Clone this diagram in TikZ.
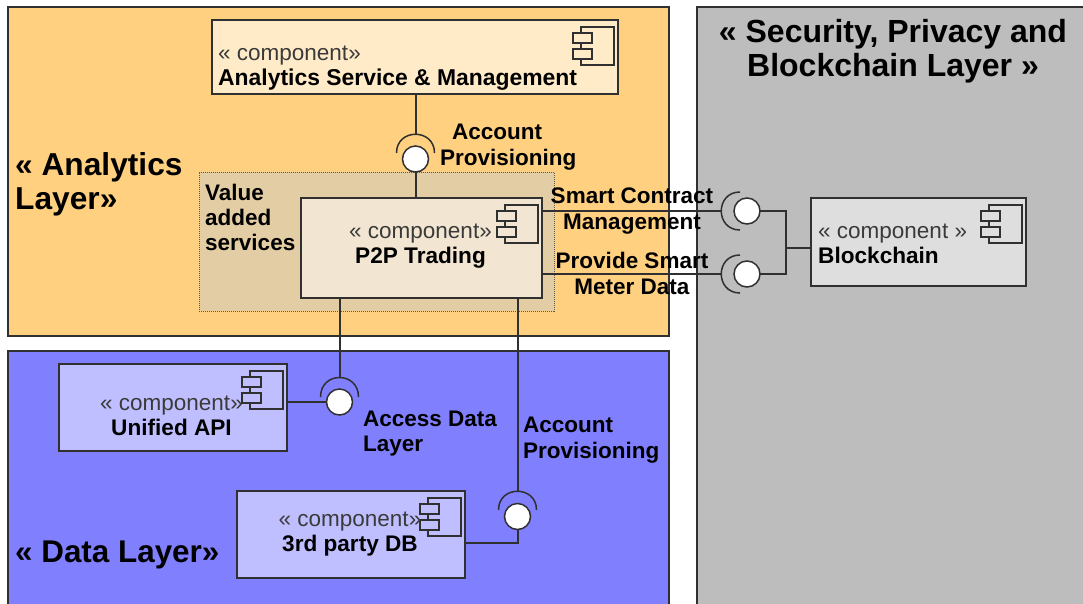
\documentclass[tikz,border=0pt]{standalone}
\usepackage{fontspec}
\setmainfont{Liberation Sans}
\definecolor{linecol}{HTML}{303030}
\definecolor{compgray}{HTML}{3A3A3A}
\definecolor{orangelayer}{HTML}{FFD080}
\definecolor{bluelayer}{HTML}{8080FF}
\definecolor{graylayer}{HTML}{BDBDBD}
\definecolor{valuefill}{HTML}{E3CDA4}
\definecolor{orangecomp}{HTML}{FFEBC8}
\definecolor{tradecomp}{HTML}{F2E6D2}
\definecolor{graycomp}{HTML}{DEDEDE}
\definecolor{bluecomp}{HTML}{BFBFFF}
\newcommand{\compicon}[2]{%
  \draw[iconline] ([xshift=-37pt,yshift=-7pt]#1.north east) rectangle ([xshift=-4pt,yshift=-45pt]#1.north east);
  \draw[iconline,fill=#2] ([xshift=-45pt,yshift=-13pt]#1.north east) rectangle ([xshift=-26pt,yshift=-23pt]#1.north east);
  \draw[iconline,fill=#2] ([xshift=-45pt,yshift=-29pt]#1.north east) rectangle ([xshift=-26pt,yshift=-39pt]#1.north east);
}
\newcommand{\bname}[1]{{\fontsize{22.6}{25}\selectfont\bfseries\color{black}#1}}
\tikzset{
  layerbox/.style={draw=linecol,line width=1.5pt,inner sep=0pt,outer sep=0pt,anchor=center},
  compbox/.style={draw=linecol,line width=1.5pt,inner sep=0pt,outer sep=0pt,anchor=center},
  valuebox/.style={draw=linecol!80,densely dotted,line width=1pt,inner sep=0pt,outer sep=0pt,fill=valuefill},
  iconline/.style={draw=linecol,line width=1.4pt},
  wire/.style={draw=linecol,line width=2pt},
  socket/.style={draw=linecol,line width=1.5pt},
  ball/.style={circle,draw=linecol,line width=1.5pt,fill=white,minimum size=26pt,inner sep=0pt,outer sep=0pt},
  lbl/.style={font=\fontsize{22.5}{25.3}\selectfont\bfseries,text=black,inner sep=0pt,align=center},
  lbll/.style={lbl,align=left},
  comptxt/.style={font=\fontsize{22.5}{25}\selectfont,text=compgray,inner sep=0pt},
  title/.style={font=\fontsize{31.7}{34}\selectfont\bfseries,text=black,inner sep=0pt}
}
\begin{document}
\begin{tikzpicture}[x=1pt,y=-1pt]
\useasboundingbox (0,0) rectangle (1083,603);
% layers
\node[layerbox,fill=graylayer,minimum width=400pt,minimum height=606pt] (seclayer) at (897,310) {};
\node[layerbox,fill=orangelayer,minimum width=661pt,minimum height=329pt] (anlayer) at (338.5,171.5) {};
\node[layerbox,fill=bluelayer,minimum width=661pt,minimum height=265pt] (datalayer) at (338.5,483.5) {};
\node[valuebox,minimum width=355pt,minimum height=139pt] (value) at (376.5,241.5) {};
% components
\node[compbox,fill=orangecomp,minimum width=406pt,minimum height=74pt] (service) at (415,57) {};
\node[compbox,fill=tradecomp,minimum width=241pt,minimum height=100pt] (p2p) at (421.5,248) {};
\node[compbox,fill=graycomp,minimum width=215pt,minimum height=88pt] (chain) at (918.5,242) {};
\node[compbox,fill=bluecomp,minimum width=228pt,minimum height=87pt] (api) at (173,407.5) {};
\node[compbox,fill=bluecomp,minimum width=228pt,minimum height=87pt] (db) at (351,534.5) {};
\compicon{service}{orangecomp}
\compicon{p2p}{tradecomp}
\compicon{chain}{graycomp}
\compicon{api}{bluecomp}
\compicon{db}{bluecomp}
% interface coordinates
\coordinate (s1) at (415.5,134);
\coordinate (s2) at (722,211);
\coordinate (s3) at (722,274);
\coordinate (s4) at (339.5,377);
\coordinate (s5) at (517.5,491);
\coordinate (jn) at (786,248);
% sockets
\draw[socket] (396.5,153) .. controls (396.5,128) and (434.5,128) .. (434.5,153);
\draw[socket] (740,192) .. controls (715,192) and (715,230) .. (740,230);
\draw[socket] (740,255) .. controls (715,255) and (715,293) .. (740,293);
\draw[socket] (320.5,397) .. controls (320.5,371) and (358.5,371) .. (358.5,397);
\draw[socket] (498.5,510) .. controls (498.5,485) and (536.5,485) .. (536.5,510);
\node[ball] (b1) at (415.5,159) {};
\node[ball] (b2) at (747,211) {};
\node[ball] (b3) at (747,274) {};
\node[ball] (b4) at (339.5,402) {};
\node[ball] (b5) at (517.5,516.5) {};
% connectors
\draw[wire] (service.south -| s1) -- (s1);
\draw[wire] (b1.south) -- (p2p.north -| b1);
\draw[wire] (p2p.east |- s2) -- (s2);
\draw[wire] (p2p.east |- s3) -- (s3);
\draw[wire] (b2.east) -| (jn) |- (b3.east);
\draw[wire] (jn) -- (chain.west |- jn);
\draw[wire] (p2p.south -| s4) -- (s4);
\draw[wire] (p2p.south -| s5) -- (s5);
\draw[wire] (api.east |- b4) -- (b4.west);
\path (db.east) ++(0,8) coordinate (dbout);
\draw[wire] (dbout) -| (b5.south);
% titles
\node[title,align=left,anchor=west] (tan) at (15,184) {« Analytics\\Layer»};
\node[title,anchor=west,font=\fontsize{31.4}{34}\selectfont\bfseries] (tdata) at (15,554.5) {« Data Layer»};
\node[title,align=center,font=\fontsize{32}{34}\selectfont\bfseries] (tsec) at (893,51) {« Security, Privacy and\\Blockchain Layer »};
% component text
\node[comptxt,align=left,anchor=west] (t1) at (218,68.5) {« component»\\{\fontsize{22.9}{25}\selectfont\bfseries\color{black}Analytics Service \& Management}};
\node[comptxt,align=center] (t2) at (420.5,246.5) {« component»\\\bname{P2P Trading}};
\node[comptxt,align=left,anchor=west] (t3) at (818,244) {« component »\\\bname{Blockchain}};
\node[comptxt,align=center] (t4) at (171.5,416) {« component»\\\bname{Unified API}};
\node[comptxt,align=center] (t5) at (350,534) {« component»\\\bname{3rd party DB}};
% labels
\node[lbll,anchor=west] (l1) at (440,147) {\hspace*{12pt}Account\\Provisioning};
\node[lbll,anchor=west] (l2) at (205,217.5) {Value\\added\\services};
\node[lbl] (l3) at (632,211) {Smart Contract\\Management};
\node[lbl] (l4) at (632,273.5) {Provide Smart\\Meter Data};
\node[lbll,anchor=west] (l5) at (363,433.5) {Access Data\\Layer};
\node[lbll,anchor=west] (l6) at (523,440) {Account\\Provisioning};
\end{tikzpicture}
\end{document}
